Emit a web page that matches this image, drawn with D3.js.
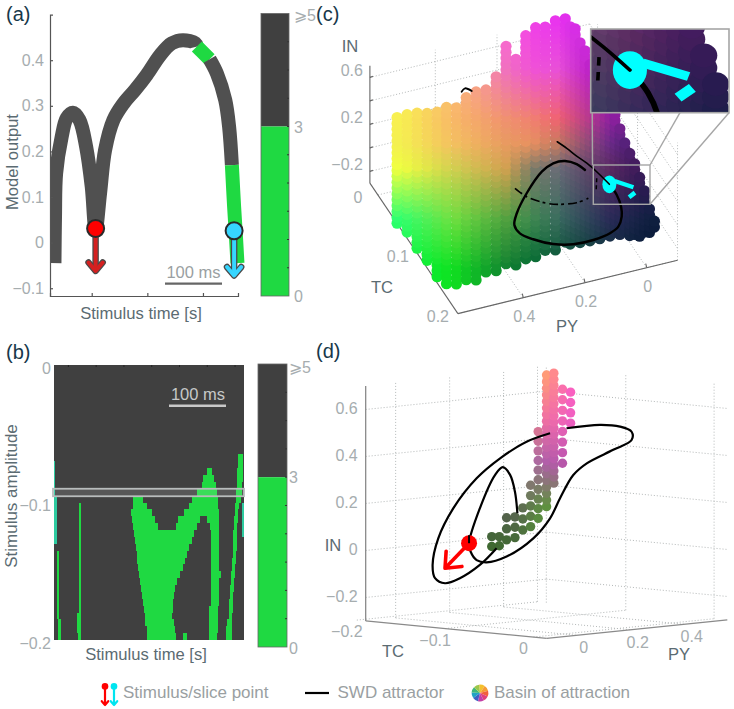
<!DOCTYPE html>
<html>
<head>
<meta charset="utf-8">
<script src="https://d3js.org/d3.v7.min.js"></script>
<style>
    body { margin: 0; background: #fff; }
    text { font-family: "Liberation Sans", sans-serif; }
    .tick-label { fill: #a6adaf; font-size: 16px; }
    .axis-title { fill: #5b6b72; font-size: 16.6px; }
    .panel-label { fill: #17384a; font-size: 20px; }
    .legend-label { fill: #9a9fa2; font-size: 17px; }
    .grid3d { stroke: #b4b8b8; stroke-width: 1; stroke-dasharray: 1 2; fill: none; }
</style>
</head>
<body>
<div id="chart"></div>
<script>
// panel (a): model output along the stimulus time, one run per colorbar value
const outputTime = [8, 9, 11, 21, 30, 41, 53, 65, 75, 82, 90, 99, 114, 132, 153, 174, 198, 219, 239, 261, 264, 287, 300, 315, 322, 327, 331, 334, 337];
const outputValue = [-0.045, 0.057, 0.152, 0.232, 0.273, 0.285, 0.269, 0.21, 0.123, 0.028, 0.108, 0.203, 0.269, 0.305, 0.335, 0.368, 0.411, 0.437, 0.444, 0.437, 0.43, 0.402, 0.371, 0.313, 0.254, 0.17, 0.079, 0.02, -0.045];
const outputRuns = [[0, 20, 5], [20, 21, 1], [21, 25, 5], [25, 28, 1]];
const stimulusPoints = [
    {time: 82, from: 0.031, to: -0.062, color: "#ff0000", stem: "#d42020"},
    {time: 331, from: 0.026, to: -0.072, color: "#36d6ff", stem: "#36d6ff"}
];
const outputTicks = [-0.1, 0, 0.1, 0.2, 0.3, 0.4];
const timeTicks = [75, 175, 275];

// panel (b): green spans [t0, t1, ...] in ms for each amplitude row (row r covers -0.005 r)
const heatGreen = [
    [], [], [], [], [], [], [], [], [], [], [], [], [],
    [331.8, 339.6],
    [331.8, 339.6],
    [276, 283.8, 330, 339.6],
    [267.6, 288, 328.8, 339.6],
    [265.8, 291, 328.8, 337.8],
    [256.8, 292.8, 327.6, 337.8],
    [141.6, 159.6, 249, 294.6, 327.6, 336],
    [44.4, 48.6, 141.6, 166.8, 243.6, 295.8, 326.4, 333.6],
    [44.4, 48.6, 138.6, 175.8, 234.6, 297.6, 326.4, 331.8],
    [44.4, 48.6, 140.4, 181.8, 223.8, 262.8, 274.8, 297.6, 324, 331.8],
    [44.4, 48.6, 141.6, 187.8, 219, 256.8, 280.8, 297.6, 324, 330],
    [44.4, 48.6, 144.6, 252.6, 282, 297, 322.8, 330],
    [44.4, 48.6, 145.8, 247.8, 282, 297, 322.8, 328.8],
    [44.4, 48.6, 147.6, 243.6, 282, 297, 321.6, 328.8],
    [4.8, 9, 44.4, 48.6, 148.8, 240, 282, 297, 321.6, 327.6],
    [4.8, 9, 44.4, 48.6, 150, 235.8, 282, 297, 320.4, 327.6],
    [4.8, 9, 44.4, 48.6, 151.2, 231.6, 282, 297, 320.4, 326.4],
    [4.8, 9, 44.4, 48.6, 153, 226.8, 282, 300, 318.6, 325.8],
    [4.8, 9, 44.4, 48.6, 154.2, 222, 282, 297.6, 318.6, 324.6],
    [4.8, 9, 44.4, 48.6, 156, 218.4, 282, 297.6, 317.4, 324.6],
    [4.8, 9, 44.4, 48.6, 157.8, 216, 282, 297.6, 317.4, 322.8],
    [4.8, 9, 44.4, 48.6, 159.6, 213.6, 282, 297.6, 315.6, 322.8],
    [4.8, 9, 44.4, 48.6, 161.4, 213.6, 279.6, 295.8, 314.4, 321.6],
    [4.8, 9, 42, 48.6, 163.2, 213, 279.6, 295.8, 314.4, 320.4],
    [7.2, 12.6, 42, 48.6, 163.8, 216, 279.6, 294.6, 312, 320.4],
    [7.2, 12.6, 42, 48.6, 166.8, 217.8, 279, 294.6, 309.6, 319.8],
    [7.2, 12.6, 43.8, 48, 168, 219.6, 232.8, 238.8, 279, 293.4, 309.6, 319.8]
];
// rows [first, last, t0, t1] with the teal tint
const heatTeal = [[14, 18, 0, 1.5], [19, 25, 0.6, 5.4], [20, 24, 339, 342]];
const amplitudeTicks = [0, -0.1, -0.2];
const heatTimeTicks = [25, 75, 125, 175, 225, 275, 325];

// panel (c): basin columns, dots run from inLow to inHigh at fixed PY, TC
const basinPY = [0.66, 0.66, 0.66, 0.66, 0.66, 0.649, 0.617, 0.585, 0.553, 0.521, 0.488, 0.456, 0.424, 0.392, 0.36, 0.329, 0.296, 0.264, 0.248, 0.232, 0.216, 0.2, 0.184, 0.168, 0.152, 0.135, 0.119, 0.103, 0.087, 0.071, 0.055, 0.039, 0.023, 0.007, -0.009, -0.025];
const basinTC = [0.085, 0.11, 0.135, 0.16, 0.185, 0.2, 0.2, 0.2, 0.2, 0.2, 0.2, 0.2, 0.2, 0.2, 0.2, 0.2, 0.2, 0.2, 0.2, 0.2, 0.2, 0.2, 0.2, 0.2, 0.2, 0.2, 0.2, 0.2, 0.2, 0.2, 0.2, 0.2, 0.2, 0.2, 0.2, 0.2];
const basinLow = [-0.081, -0.055, -0.041, -0.043, -0.031, -0.047, -0.045, -0.054, -0.051, -0.029, -0.014, 0, -0.006, 0, 0.023, 0.033, 0.04, 0.062, 0.059, 0.056, 0.052, 0.049, 0.046, 0.043, 0.044, 0.045, 0.045, 0.044, 0.038, 0.032, 0.008, -0.017, -0.017, -0.017, -0.006, 0.005];
const basinHigh = [0.826, 0.981, 1.121, 1.262, 1.402, 1.49, 1.493, 1.529, 1.551, 1.568, 1.651, 1.886, 1.755, 1.959, 2.01, 2.004, 2.011, 2.005, 1.95, 1.886, 1.79, 1.695, 1.59, 1.49, 1.39, 1.284, 1.18, 1.08, 0.96, 0.846, 0.73, 0.613, 0.49, 0.366, 0.24, 0.118];
const basinStep = 0.05;
// colours, rows top to bottom at basinColorRowY, columns at basinColorColX
const basinColorColX = [400, 453, 507, 533, 560, 613, 653];
const basinColorRowY = [17, 67, 117, 142, 167, 217, 267];
const basinColors = [
    ["#ffff70", "#ffd080", "#ff60e0", "#f040e8", "#e830f0", "#b020e0", "#6010a0"],
    ["#ffff60", "#ffc080", "#f070c0", "#f050d8", "#e850d8", "#a000c0", "#400080"],
    ["#f8f050", "#f8b868", "#f09070", "#f08070", "#f06070", "#9020a0", "#3c1070"],
    ["#f4f050", "#f4c060", "#e89a60", "#e89060", "#c07860", "#6a2a88", "#2a0c60"],
    ["#f0ff40", "#d0d050", "#d0a050", "#7a7a68", "#686c78", "#5a2a60", "#301058"],
    ["#30ff70", "#70e040", "#50a040", "#3e8850", "#3a6a60", "#2a2a58", "#102040"],
    ["#00ff40", "#10e020", "#108030", "#006a30", "#005030", "#003030", "#001030"]
];

// attractor seen in (c), [PY, IN] with TC at its front value
const attractorThin = [[0.29, 0.957], [0.259, 0.881], [0.227, 0.795], [0.194, 0.713], [0.157, 0.604], [0.121, 0.487]];
const attractorLoop = [[0.121, 0.487], [0.097, 0.381], [0.083, 0.272], [0.081, 0.186], [0.092, 0.108], [0.119, 0.069], [0.173, 0.046], [0.238, 0.051], [0.303, 0.095], [0.368, 0.177], [0.411, 0.255], [0.429, 0.337], [0.421, 0.432], [0.389, 0.582], [0.34, 0.734], [0.303, 0.782], [0.265, 0.777], [0.227, 0.727], [0.2, 0.659]];
const attractorDashed = [[0.427, 0.648], [0.389, 0.553], [0.324, 0.455], [0.281, 0.419], [0.227, 0.398], [0.189, 0.411]];
const attractorPiece = [[0.162, 0.565], [0.164, 0.451]];
const attractorHook = [[0.6, 1.581], [0.589, 1.603], [0.567, 1.566]];
const slicePoint = [0.121, 0.487];
const sliceStem = [[0.104, 0.505], [0.043, 0.412]];
const sliceHead = [[0.057, 0.336], [0.038, 0.363]];

// panel (d): slice of the basin, [PY, IN low, IN high, step], TC fixed
const sliceColumns = [
    [-0.102, 0.066, 0.108, 0.042], [-0.074, 0.066, 0.105, 0.039], [-0.047, 0.088, 0.183, 0.047],
    [-0.016, 0.094, 0.183, 0.044], [0.013, 0.123, 0.218, 0.047], [0.042, 0.134, 0.311, 0.044],
    [0.07, 0.166, 0.535, 0.041], [0.101, 0.212, 0.772, 0.028], [0.128, 0.309, 0.777, 0.026],
    [0.16, 0.39, 0.709, 0.045], [0.19, 0.557, 0.689, 0.044]
];
const sliceTC = -0.05;
const sliceColors = [
    ["#ffb050", "#ffb050", "#ffa070", "#ff60c0"],
    ["#d09050", "#d09858", "#f070a0", "#f060c0"],
    ["#807060", "#a08888", "#b060a8", "#c050b0"],
    ["#555555", "#606858", "#5f9040", "#5f9040"],
    ["#3e6a30", "#406a30", "#50a030", "#50a030"]
];
const attractorOuter = [[0.114, 0.523], [0.027, 0.497], [-0.071, 0.438], [-0.158, 0.363], [-0.244, 0.246], [-0.3, 0.124], [-0.321, 0.013], [-0.312, -0.044], [-0.275, -0.07], [-0.22, -0.055], [-0.146, -0.007], [-0.084, 0.057]];
const attractorInner = [[-0.007, 0.197], [-0.016, 0.289], [-0.034, 0.363], [-0.061, 0.399], [-0.09, 0.369], [-0.146, 0.234], [-0.186, 0.09], [-0.18, 0.053], [-0.158, 0.015], [-0.121, 0.001], [-0.047, 0.017], [0.052, 0.083], [0.114, 0.161], [0.151, 0.242], [0.2, 0.335], [0.25, 0.379], [0.348, 0.425], [0.416, 0.459], [0.416, 0.494], [0.373, 0.521], [0.299, 0.537], [0.175, 0.537]];
const redPoint = [-0.186, 0.09];
const redTip = [-0.275, -0.006];

const inTicks = [-0.2, 0, 0.2, 0.4, 0.6];
const cInLabels = [-0.2, 0.2, 0.6];
const cTcTicks = [0, 0.1, 0.2];
const cPyTicks = [0, 0.2, 0.4];
const dTcTicks = [-0.2, -0.1, 0];
const dPyTicks = [0, 0.2, 0.4];
const wheelColors = ["#f4c02c", "#f59b35", "#f2603c", "#e0407a", "#c23fa8", "#3b62c4", "#1fa3c4", "#3fb77a", "#9cc74a"];

const GREEN = "#1fd942", DARK = "#404040", CURVE = "#505050";
const fmt = d => d === 0 ? "0" : d3.format(".1f")(d);

const svg = d3.select("#chart").append("svg")
    .attr("width", 734)
    .attr("height", 709);
const defs = svg.append("defs");

function label(g, x, y, txt, cls, anchor) {
    return g.append("text")
        .attr("x", x).attr("y", y)
        .attr("class", cls)
        .attr("text-anchor", anchor || "middle")
        .text(txt);
}

function styleAxis(g) {
    g.selectAll("path,line").attr("stroke", "#555").attr("stroke-width", 1.2);
    g.selectAll("text").attr("class", "tick-label").style("font-family", null);
    g.attr("font-family", null).attr("font-size", null);
}

function arrow(g, x1, y1, x2, y2, color, width, head, under) {
    let a = Math.atan2(y2 - y1, x2 - x1);
    let pts = [[x1, y1], [x2, y2]];
    let barb = s => [x2 - head * Math.cos(a + s * 0.7), y2 - head * Math.sin(a + s * 0.7)];
    let chevron = d3.line()([barb(1), [x2, y2], barb(-1)]);
    if (under) {
        g.append("path").attr("d", d3.line()(pts)).attr("stroke", under).attr("stroke-width", width + 2.5).attr("fill", "none");
        g.append("path").attr("d", chevron).attr("stroke", under).attr("stroke-width", width + 2.5).attr("fill", "none").attr("stroke-linejoin", "round").attr("stroke-linecap", "round");
    }
    g.append("path").attr("d", d3.line()(pts)).attr("stroke", color).attr("stroke-width", width).attr("fill", "none");
    g.append("path").attr("d", chevron).attr("stroke", color).attr("stroke-width", width).attr("fill", "none").attr("stroke-linejoin", "round").attr("stroke-linecap", "round");
}

function colorbar(left, width, top, bottom, labelGap, labelY) {
    let g = svg.append("g");
    let c = d3.scaleLinear().domain([0, 5]).range([bottom, top]);
    g.append("rect").attr("x", left).attr("width", width).attr("y", c(5)).attr("height", c(3) - c(5)).attr("fill", DARK);
    g.append("rect").attr("x", left).attr("width", width).attr("y", c(3)).attr("height", c(0) - c(3)).attr("fill", GREEN);
    g.append("rect").attr("x", left).attr("width", width).attr("y", top).attr("height", bottom - top)
        .attr("fill", "none").attr("stroke", "#666").attr("stroke-width", 0.8);
    g.selectAll(".cb-tick").data(d3.range(0.5, 5, 0.5)).enter().append("line")
        .attr("x1", left + width - 2).attr("x2", left + width)
        .attr("y1", d => c(d)).attr("y2", d => c(d))
        .attr("stroke", "#333");
    [[5, "\u2a7e5"], [3, "3"], [0, "0"]].forEach(d => {
        label(g, left + width + labelGap, c(d[0]) + labelY[d[0]], d[1], "tick-label", "start");
    });
}

// ---------- panel (a) ----------
function drawPanelA() {
    let g = svg.append("g");
    let x = d3.scaleLinear().domain([0, 338]).range([50, 238]);
    let y = d3.scaleLinear().domain([-0.117, 0.5]).range([296, 14.6]);

    defs.append("clipPath").attr("id", "clip-a").append("rect")
        .attr("x", 50).attr("y", 0).attr("width", 200).attr("height", 296);

    let line = d3.line().curve(d3.curveCatmullRom.alpha(0.5)).x(d => x(d[0])).y(d => y(d[1]));
    let plot = g.append("g").attr("clip-path", "url(#clip-a)");
    outputRuns.forEach(run => {
        let pts = d3.range(run[0], run[1] + 1).map(i => [outputTime[i], outputValue[i]]);
        plot.append("path")
            .attr("d", line(pts))
            .attr("fill", "none")
            .attr("stroke", run[2] >= 3 ? CURVE : GREEN)
            .attr("stroke-width", 14);
    });

    g.append("g").attr("transform", "translate(50,0)")
        .call(d3.axisLeft(y).tickValues(outputTicks).tickSize(-3).tickPadding(6).tickFormat(fmt))
        .call(styleAxis);
    g.append("g").attr("transform", "translate(0,296)")
        .call(d3.axisBottom(x).tickValues(timeTicks).tickSize(-3).tickFormat(""))
        .call(styleAxis);

    stimulusPoints.forEach(p => {
        arrow(g, x(p.time), y(p.from), x(p.time), y(p.to), p.stem, 4, 11, "#4a4a4a");
        g.append("circle").attr("cx", x(p.time)).attr("cy", y(p.from)).attr("r", 8.5)
            .attr("fill", p.color).attr("stroke", "#2a2a2a").attr("stroke-width", 2);
    });

    label(g, 193.5, 278, "100 ms", "legend-label").style("font-size", "16.5px");
    g.append("line").attr("x1", x(0) + 115).attr("x2", x(0) + 172).attr("y1", 283.7).attr("y2", 283.7)
        .attr("stroke", "#666").attr("stroke-width", 2.2);
    label(g, 141, 319, "Stimulus time [s]", "axis-title");
    label(g, 0, 0, "Model output", "axis-title").attr("transform", "translate(18,162) rotate(-90)");
    label(g, 6, 21, "(a)", "panel-label", "start");
    colorbar(261, 28, 13.5, 296, 5, {5: 7, 3: 6, 0: 6});
}

// ---------- panel (b) ----------
function drawPanelB() {
    let g = svg.append("g");
    let x = d3.scaleLinear().domain([0, 342]).range([54, 244]);
    let y = d3.scaleLinear().domain([0, -0.2]).range([365, 640]);
    let rowTop = r => y(-0.005 * r), rowH = y(-0.005) - y(0);

    g.append("rect").attr("x", 54).attr("y", 365).attr("width", 190).attr("height", 275).attr("fill", DARK);

    let cells = [];
    heatGreen.forEach((spans, r) => {
        for (let i = 0; i < spans.length; i += 2) cells.push({r: r, t0: spans[i], t1: spans[i + 1], c: GREEN});
    });
    heatTeal.forEach(d => {
        d3.range(d[0], d[1] + 1).forEach(r => cells.push({r: r, t0: d[2], t1: d[3], c: "#2ecba0"}));
    });
    g.selectAll(".cell").data(cells).enter().append("rect")
        .attr("class", "cell")
        .attr("x", d => x(d.t0))
        .attr("width", d => x(d.t1) - x(d.t0))
        .attr("y", d => rowTop(d.r))
        .attr("height", rowH)
        .attr("shape-rendering", "crispEdges")
        .attr("fill", d => d.c);

    // slice band through the map
    g.append("rect")
        .attr("x", 53).attr("width", 191)
        .attr("y", y(-0.09) ).attr("height", 7.5)
        .attr("fill", "#fff").attr("fill-opacity", 0.12)
        .attr("stroke", "#b8bcbc").attr("stroke-width", 1.8);

    let yAxis = g.append("g").attr("transform", "translate(54,0)")
        .call(d3.axisLeft(y).tickValues(amplitudeTicks).tickSize(0).tickPadding(3).tickFormat(fmt))
        .call(styleAxis);
    yAxis.selectAll("text").attr("transform", "translate(0,3)");
    yAxis.select("path").remove();
    g.append("g").attr("transform", "translate(0,365)")
        .call(d3.axisBottom(x).tickValues(heatTimeTicks).tickSize(2).tickFormat(""))
        .call(ax => {
            ax.selectAll("line").attr("stroke", "#222");
            ax.select("path").remove();
        });

    label(g, 198, 400, "100 ms", "legend-label").style("fill", "#c6c8c8").style("font-size", "16.5px");
    g.append("line").attr("x1", 169).attr("x2", 226).attr("y1", 405.7).attr("y2", 405.7)
        .attr("stroke", "#c8c8c8").attr("stroke-width", 2.4);
    label(g, 146, 660, "Stimulus time [s]", "axis-title");
    label(g, 0, 0, "Stimulus amplitude", "axis-title").attr("transform", "translate(17,496) rotate(-90)").style("font-size", "17px");
    label(g, 6, 359, "(b)", "panel-label", "start");
    colorbar(258, 29, 364, 647, 2, {5: 9, 3: 6, 0: 7});
}

// bilinear lookup in a table of colours
function gridColor(grid, xs, ys, px, py) {
    let cx = Math.max(0, Math.min(grid[0].length - 1.001, xs(px)));
    let cy = Math.max(0, Math.min(grid.length - 1.001, ys(py)));
    let i = Math.floor(cx), j = Math.floor(cy);
    let top = d3.interpolateRgb(grid[j][i], grid[j][i + 1])(cx - i);
    let bot = d3.interpolateRgb(grid[j + 1][i], grid[j + 1][i + 1])(cx - i);
    return d3.interpolateRgb(top, bot)(cy - j);
}

// ---------- panel (c) ----------
const projC = (py, tc, inn) => [
    646.7 - 308.5 * py + 400 * (tc - 0.2),
    267.7 + 75 * py + 593 * (tc - 0.2) - 117.5 * (inn + 0.3)
];
const cPlane = d3.line().x(d => projC(d[0], 0.2, d[1])[0]).y(d => projC(d[0], 0.2, d[1])[1]);

function basinDotsC(g) {
    let xs = d3.scaleLinear().domain(basinColorColX).range(d3.range(basinColorColX.length));
    let ys = d3.scaleLinear().domain(basinColorRowY).range(d3.range(basinColorRowY.length));
    let dots = [];
    basinPY.forEach((py, k) => {
        let start = basinLow[k] + (k % 2 ? basinStep / 2 : 0);
        d3.range(start, basinHigh[k] + 0.001, basinStep).forEach(v => dots.push(projC(py, basinTC[k], v)));
    });
    g.selectAll(".dot").data(dots).enter().append("circle")
        .attr("cx", d => d[0])
        .attr("cy", d => d[1])
        .attr("r", 5.6)
        .attr("fill", d => gridColor(basinColors, xs, ys, d[0], d[1]));
}

function attractorC(g) {
    let stroke = (sel, w) => sel.attr("fill", "none").attr("stroke", "#000").attr("stroke-width", w).attr("stroke-linecap", "round");
    let smooth = cPlane.curve(d3.curveCatmullRom.alpha(0.5));
    g.append("path").attr("d", smooth(attractorLoop)).call(stroke, 2.4);
    g.append("path").attr("d", smooth(attractorDashed)).call(stroke, 1.7).attr("stroke-dasharray", "9 3 3 4").attr("stroke-linecap", "butt");
    g.append("path").attr("d", smooth(attractorPiece)).call(stroke, 1.5).attr("stroke-dasharray", "4 3").attr("stroke-linecap", "butt");
    g.append("path").attr("d", smooth(attractorHook)).call(stroke, 1.8);

    let s = projC(slicePoint[0], 0.2, slicePoint[1]);
    g.append("path").attr("d", cPlane(sliceStem)).attr("stroke", "#00ffff").attr("stroke-width", 4.2).attr("fill", "none");
    g.append("path").attr("d", cPlane(sliceHead)).attr("stroke", "#00ffff").attr("stroke-width", 4.6).attr("fill", "none");
    g.append("ellipse").attr("cx", s[0]).attr("cy", s[1]).attr("rx", 7).attr("ry", 8.9).attr("fill", "#00ffff");
    g.append("path").attr("d", smooth(attractorThin)).call(stroke, 1.6);
}

function drawPanelC() {
    let g = svg.append("g");
    let pyMax = 0.612, pyMin = -0.1, tcMin = -0.02, tcMax = 0.2, inMin = -0.3, inMax = 0.7;
    let seg = (a, b) => d3.line()([projC(a[0], a[1], a[2]), projC(b[0], b[1], b[2])]);
    let grid = g.append("g");
    inTicks.forEach(v => {
        grid.append("path").attr("class", "grid3d").attr("d", seg([pyMax, tcMin, v], [pyMin, tcMin, v]));
        grid.append("path").attr("class", "grid3d").attr("d", seg([pyMin, tcMin, v], [pyMin, tcMax, v]));
    });
    cPyTicks.forEach(p => {
        grid.append("path").attr("class", "grid3d").attr("d", seg([p, tcMin, inMin], [p, tcMin, inMax]));
        grid.append("path").attr("class", "grid3d").attr("d", seg([p, tcMin, inMin], [p, tcMax, inMin]));
    });
    cTcTicks.forEach(t => {
        grid.append("path").attr("class", "grid3d").attr("d", seg([pyMin, t, inMin], [pyMin, t, inMax]));
        grid.append("path").attr("class", "grid3d").attr("d", seg([pyMin, t, inMin], [pyMax, t, inMin]));
    });

    let axes = g.append("g").attr("stroke", "#666").attr("stroke-width", 1.1).attr("fill", "none");
    axes.append("path").attr("d", seg([pyMax, tcMin, inMin], [pyMax, tcMin, inMax]));
    axes.append("path").attr("d", seg([pyMax, tcMin, inMin], [pyMax, tcMax, inMin]));
    axes.append("path").attr("d", seg([pyMax, tcMax, inMin], [pyMin, tcMax, inMin]));
    inTicks.forEach(v => {
        let p = projC(pyMax, tcMin, v);
        axes.append("path").attr("d", d3.line()([p, [p[0] + 3, p[1] - 1]]));
    });
    cPyTicks.forEach(v => {
        let p = projC(v, tcMax, inMin);
        axes.append("path").attr("d", d3.line()([p, [p[0] - 1, p[1] - 4]]));
    });

    let basin = g.append("g");
    basinDotsC(basin);
    attractorC(g);

    // zoomed window on the slice point
    let win = {x0: 593.3, y0: 165, x1: 650, y1: 204.3};
    let box = {x0: 590.7, y0: 29, x1: 729, y1: 112.7};
    defs.append("clipPath").attr("id", "clip-inset").append("rect")
        .attr("x", win.x0).attr("y", win.y0).attr("width", win.x1 - win.x0).attr("height", win.y1 - win.y0);
    let frame = g.append("g").attr("fill", "none").attr("stroke", "#a6a6a6").attr("stroke-width", 1.4);
    frame.append("rect").attr("x", win.x0).attr("y", win.y0).attr("width", win.x1 - win.x0).attr("height", win.y1 - win.y0);
    frame.append("path").attr("d", d3.line()([[win.x0 - 0.8, win.y0], [box.x0 + 1.5, box.y1]]));
    frame.append("path").attr("d", d3.line()([[win.x1, win.y0], [680, box.y1]]));
    frame.append("path").attr("d", d3.line()([[win.x1, win.y1], [box.x1, box.y1]]));

    g.append("rect").attr("x", box.x0).attr("y", box.y0).attr("width", box.x1 - box.x0).attr("height", box.y1 - box.y0).attr("fill", "#fff");
    let sx = (box.x1 - box.x0) / (win.x1 - win.x0), sy = (box.y1 - box.y0) / (win.y1 - win.y0);
    let inset = g.append("g")
        .attr("transform", `translate(${box.x0},${box.y0}) scale(${sx},${sy}) translate(${-win.x0},${-win.y0})`)
        .append("g").attr("clip-path", "url(#clip-inset)");
    basinDotsC(inset);
    attractorC(inset);
    g.append("rect").attr("x", box.x0).attr("y", box.y0).attr("width", box.x1 - box.x0).attr("height", box.y1 - box.y0)
        .attr("fill", "none").attr("stroke", "#a6a6a6").attr("stroke-width", 1.6);

    cInLabels.forEach(v => {
        let p = projC(pyMax, tcMin, v);
        label(g, p[0] - 7, p[1] - 1, fmt(v), "tick-label", "end");
    });
    cPyTicks.forEach(v => {
        let p = projC(v, tcMax, inMin);
        label(g, p[0] + 1, p[1] + 24, fmt(v), "tick-label");
    });
    cTcTicks.forEach(v => {
        let p = projC(pyMax, v, inMin);
        label(g, p[0] - 20, p[1] + 8, fmt(v), "tick-label");
    });
    label(g, 350, 52, "IN", "axis-title");
    label(g, 382, 293, "TC", "axis-title");
    label(g, 567, 332, "PY", "axis-title");
    label(g, 316, 21, "(c)", "panel-label", "start");
}

// ---------- panel (d) ----------
const projD = (py, tc, inn) => [
    546.7 + 270 * (py + 0.111) + 883 * (tc - 0.015),
    638.3 - 27.4 * (py + 0.111) + 84.6 * (tc - 0.015) - 235 * (inn + 0.3)
];

function drawPanelD() {
    let g = svg.append("g");
    let pyMin = -0.111, pyMax = 0.558, tcMin = -0.19, tcMax = 0.015, inMin = -0.3, inMax = 0.7;
    let seg = (a, b) => d3.line()([projD(a[0], a[1], a[2]), projD(b[0], b[1], b[2])]);
    let grid = g.append("g");
    inTicks.forEach(v => {
        grid.append("path").attr("class", "grid3d").attr("d", seg([pyMin, tcMin, v], [pyMax, tcMin, v]));
        grid.append("path").attr("class", "grid3d").attr("d", seg([pyMax, tcMin, v], [pyMax, tcMax, v]));
    });
    dPyTicks.forEach(p => {
        grid.append("path").attr("class", "grid3d").attr("d", seg([p, tcMin, inMin], [p, tcMin, inMax]));
        grid.append("path").attr("class", "grid3d").attr("d", seg([p, tcMin, inMin], [p, tcMax, inMin]));
    });
    dTcTicks.forEach(t => {
        grid.append("path").attr("class", "grid3d").attr("d", seg([pyMax, t, inMin], [pyMax, t, inMax]));
        grid.append("path").attr("class", "grid3d").attr("d", seg([pyMin, t, inMin], [pyMax, t, inMin]));
    });
    grid.append("path").attr("class", "grid3d").attr("d", seg([pyMax, tcMin, inMin], [pyMax, tcMin, inMax]));

    let axes = g.append("g").attr("stroke", "#8a8a8a").attr("stroke-width", 1.3).attr("fill", "none");
    axes.append("path").attr("d", seg([pyMin, tcMin, inMin], [pyMin, tcMin, inMax]));
    axes.append("path").attr("d", seg([pyMin, tcMin, inMin], [pyMin, tcMax, inMin]));
    axes.append("path").attr("d", seg([pyMin, tcMax, inMin], [pyMax, tcMax, inMin]));

    let xs = d3.scaleLinear().domain([491.7, 570.7]).range([0, 3]);
    let ys = d3.scaleLinear().domain([375, 548]).range([0, 4]);
    let dots = [];
    sliceColumns.forEach(c => {
        d3.range(c[1], c[2] + 0.005, c[3]).forEach(v => dots.push(projD(c[0], sliceTC, v)));
    });
    g.selectAll(".slice-dot").data(dots).enter().append("circle")
        .attr("cx", d => d[0])
        .attr("cy", d => d[1])
        .attr("r", 4.7)
        .attr("fill", d => gridColor(sliceColors, xs, ys, d[0], d[1]));

    let curve = d3.line().curve(d3.curveCatmullRom.alpha(0.5))
        .x(d => projD(d[0], sliceTC, d[1])[0])
        .y(d => projD(d[0], sliceTC, d[1])[1]);
    [attractorOuter, attractorInner].forEach(pts => {
        g.append("path").attr("d", curve(pts)).attr("fill", "none").attr("stroke", "#000").attr("stroke-width", 2.2);
    });

    let a = projD(redPoint[0], sliceTC, redPoint[1]), b = projD(redTip[0], sliceTC, redTip[1]);
    arrow(g, a[0], a[1], b[0], b[1], "#ff0000", 3.6, 17);
    g.append("circle").attr("cx", a[0]).attr("cy", a[1]).attr("r", 8).attr("fill", "#ff0000");
    g.append("path").attr("d", d3.line()([[a[0], a[1] - 8], [a[0], a[1]]])).attr("stroke", "#000").attr("stroke-width", 2);

    inTicks.forEach(v => {
        let p = projD(pyMin, tcMin, v);
        label(g, p[0] - 8, p[1] + 5, fmt(v), "tick-label", "end");
    });
    dTcTicks.forEach(v => {
        let p = projD(pyMin, v, inMin);
        label(g, p[0] - 10, p[1] + 17, fmt(v), "tick-label");
    });
    dPyTicks.forEach(v => {
        let p = projD(v, tcMax, inMin);
        label(g, p[0] + 7, p[1] + 18, fmt(v), "tick-label");
    });
    label(g, 333, 551, "IN", "axis-title");
    label(g, 393, 657, "TC", "axis-title");
    label(g, 679, 660, "PY", "axis-title");
    label(g, 316, 358, "(d)", "panel-label", "start");
}

// ---------- legend ----------
function drawLegend() {
    let g = svg.append("g");
    [[105, "#ff0000"], [114, "#00e5f0"]].forEach(d => {
        arrow(g, d[0], 687, d[0], 705, d[1], 2.2, 5);
        g.append("circle").attr("cx", d[0]).attr("cy", 686.4).attr("r", 3.3).attr("fill", d[1]);
    });
    label(g, 123, 698, "Stimulus/slice point", "legend-label", "start");
    g.append("line").attr("x1", 305).attr("x2", 329).attr("y1", 693).attr("y2", 693).attr("stroke", "#000").attr("stroke-width", 2.2);
    label(g, 337.5, 698, "SWD attractor", "legend-label", "start");

    let arc = d3.arc().innerRadius(0).outerRadius(8.4);
    let pie = d3.pie().value(1).sort(null).startAngle(-0.1);
    g.append("g").attr("transform", "translate(480,693)")
        .selectAll("path").data(pie(wheelColors)).enter().append("path")
        .attr("d", arc)
        .attr("fill", d => d.data);
    label(g, 494, 698, "Basin of attraction", "legend-label", "start");
}

drawPanelA();
drawPanelB();
drawPanelC();
drawPanelD();
drawLegend();
</script>
</body>
</html>
